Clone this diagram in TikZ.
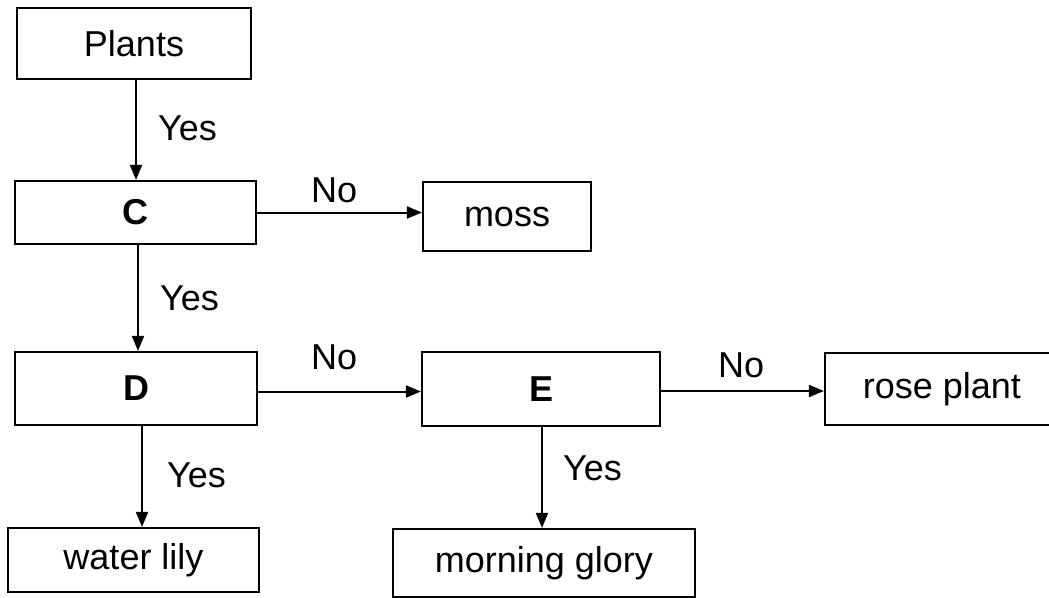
\documentclass[tikz,border=0pt]{standalone}
\usepackage{fontspec}
\setmainfont{Liberation Sans}
\usetikzlibrary{arrows.meta,calc}
\tikzset{
  box/.style={draw=black,line width=2.2pt,inner sep=0pt,align=center,font=\fontsize{36}{40}\selectfont},
  lbl/.style={anchor=west,inner sep=0pt,font=\fontsize{36}{40}\selectfont},
  arr/.style={line width=2pt,-{Triangle[length=15pt,width=12pt]}}
}
\begin{document}
\begin{tikzpicture}[x=1pt,y=-1pt]
\clip (0,0) rectangle (1049,597);
\fill[white] (0,0) rectangle (1049,597);
\node[box,minimum width=234pt,minimum height=71pt] (plants) at (134,43.5) {Plants};
\node[box,minimum width=241pt,minimum height=63pt] (C) at (135.5,212.5) {\textbf{C}};
\node[box,minimum width=168pt,minimum height=69pt] (moss) at (507,216.5) {moss};
\node[box,minimum width=242pt,minimum height=73pt] (D) at (136,388.5) {\textbf{D}};
\node[box,minimum width=238pt,minimum height=74pt] (E) at (541,389) {\textbf{E}};
\node[box,minimum width=234pt,minimum height=72pt] (rose) at (942,389) {rose plant};
\node[box,minimum width=251pt,minimum height=64pt] (wl) at (133.5,560) {water lily};
\node[box,minimum width=302pt,minimum height=68pt] (mg) at (544,563) {morning glory};
\coordinate (pa) at ($(plants.south)+(2,0)$);
\coordinate (ca) at ($(C.south)+(2.5,0)$);
\coordinate (da) at ($(D.south)+(6,0)$);
\coordinate (ea) at ($(E.south)+(1,0)$);
\coordinate (db) at ($(D.east)+(0,3)$);
\coordinate (eb) at ($(E.east)+(0,2)$);
\draw[arr] (pa) -- (pa |- C.north);
\draw[arr] (ca) -- (ca |- D.north);
\draw[arr] (da) -- (da |- wl.north);
\draw[arr] (ea) -- (ea |- mg.north);
\draw[arr] (C.east) -- (C.east -| moss.west);
\draw[arr] (db) -- (db -| E.west);
\draw[arr] (eb) -- (eb -| rose.west);
\node[lbl] (y1) at (158,128) {Yes};
\node[lbl] (y2) at (160,298) {Yes};
\node[lbl] (y3) at (167,475) {Yes};
\node[lbl] (y4) at (563,468) {Yes};
\node[lbl] (n1) at (311,190) {No};
\node[lbl] (n2) at (311,357) {No};
\node[lbl] (n3) at (718,365) {No};
\end{tikzpicture}
\end{document}
